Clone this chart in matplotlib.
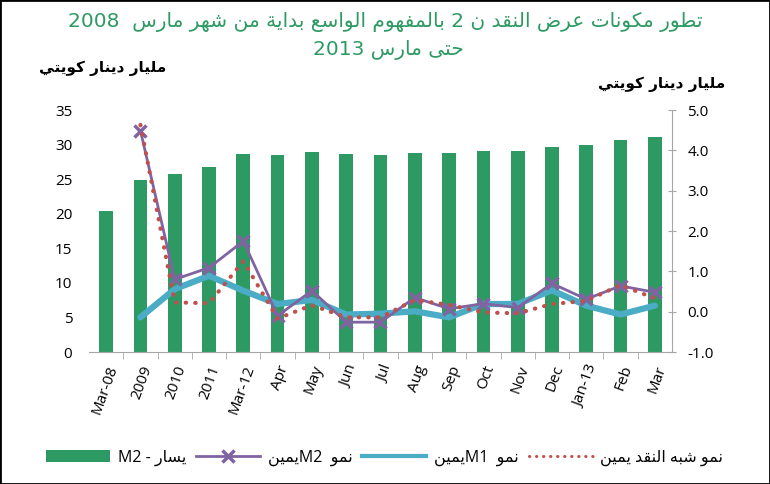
"""
Components of broad money (M2) in Kuwait, March 2008 - March 2013.
Bars: M2 level (left axis, KD billion); lines: growth rates (right axis).
"""
import re
import numpy as np
from matplotlib import pyplot as plt
from matplotlib.patches import Rectangle, Patch
from matplotlib.lines import Line2D

# ---- data -----------------------------------------------------------------
categories = ['Mar-08', '2009', '2010', '2011', 'Mar-12', 'Apr', 'May', 'Jun', 'Jul',
              'Aug', 'Sep', 'Oct', 'Nov', 'Dec', 'Jan-13', 'Feb', 'Mar']
m2_level = [20.4, 24.9, 25.7, 26.8, 28.6, 28.5, 28.9, 28.7, 28.5,
            28.8, 28.8, 29.0, 29.1, 29.7, 30.0, 30.6, 31.1]
m2_growth = [np.nan, 4.49, 0.80, 1.09, 1.75, -0.10, 0.52, -0.26, -0.26,
             0.35, 0.07, 0.20, 0.10, 0.70, 0.31, 0.64, 0.48]
m1_growth = [np.nan, -0.14, 0.56, 0.89, 0.52, 0.19, 0.29, -0.07, -0.05,
             0.01, -0.14, 0.19, 0.19, 0.53, 0.15, -0.07, 0.15]
quasi_growth = [np.nan, 4.63, 0.23, 0.21, 1.25, -0.17, 0.16, -0.14, -0.14,
                0.29, 0.17, -0.02, -0.04, 0.19, 0.27, 0.66, 0.33]

title_line1 = 'تطور مكونات عرض النقد ن 2 بالمفهوم الواسع بداية من شهر مارس  2008'
title_line2 = 'حتى مارس 2013'
unit_label = 'مليار دينار كويتي'
legend_labels = ['يسار - M2', 'نمو  M2يمين', 'نمو  M1يمين', 'نمو شبه النقد يمين']

GREEN = '#2E9A63'
PURPLE = '#8064A2'
CYAN = '#4BACC6'
RED = '#C0504D'
GRAY = '#A6A6A6'

# ---- minimal arabic shaping (matplotlib has no bidi / joining support) -------
FORMS = {
    'ا': (0xFE8D, 0xFE8E), 'د': (0xFEA9, 0xFEAA), 'ر': (0xFEAD, 0xFEAE),
    'ز': (0xFEAF, 0xFEB0), 'و': (0xFEED, 0xFEEE), 'ة': (0xFE93, 0xFE94),
    'ى': (0xFEEF, 0xFEF0),
    'ب': (0xFE8F, 0xFE90, 0xFE91, 0xFE92), 'ت': (0xFE95, 0xFE96, 0xFE97, 0xFE98),
    'ح': (0xFEA1, 0xFEA2, 0xFEA3, 0xFEA4), 'س': (0xFEB1, 0xFEB2, 0xFEB3, 0xFEB4),
    'ش': (0xFEB5, 0xFEB6, 0xFEB7, 0xFEB8), 'ض': (0xFEBD, 0xFEBE, 0xFEBF, 0xFEC0),
    'ط': (0xFEC1, 0xFEC2, 0xFEC3, 0xFEC4), 'ع': (0xFEC9, 0xFECA, 0xFECB, 0xFECC),
    'ف': (0xFED1, 0xFED2, 0xFED3, 0xFED4), 'ق': (0xFED5, 0xFED6, 0xFED7, 0xFED8),
    'ك': (0xFED9, 0xFEDA, 0xFEDB, 0xFEDC), 'ل': (0xFEDD, 0xFEDE, 0xFEDF, 0xFEE0),
    'م': (0xFEE1, 0xFEE2, 0xFEE3, 0xFEE4), 'ن': (0xFEE5, 0xFEE6, 0xFEE7, 0xFEE8),
    'ه': (0xFEE9, 0xFEEA, 0xFEEB, 0xFEEC), 'ي': (0xFEF1, 0xFEF2, 0xFEF3, 0xFEF4),
}


def shape(text):
    out = []
    for i, ch in enumerate(text):
        if ch not in FORMS:
            out.append(ch)
            continue
        prev = text[i - 1] if i > 0 else ''
        nxt = text[i + 1] if i + 1 < len(text) else ''
        joins_prev = prev in FORMS and len(FORMS[prev]) == 4
        joins_next = len(FORMS[ch]) == 4 and nxt in FORMS
        f = FORMS[ch]
        if joins_prev and joins_next:
            code = f[3]
        elif joins_prev:
            code = f[1]
        elif joins_next:
            code = f[2]
        else:
            code = f[0]
        out.append(chr(code))
    return ''.join(out)


def rtl(text):
    # shape in logical order, then lay the runs out right-to-left
    runs = re.findall(r'[A-Za-z0-9.]+|[^A-Za-z0-9.]+', shape(text))
    return ''.join(r if re.match(r'[A-Za-z0-9]', r) else r[::-1] for r in reversed(runs))


# ---- plot -------------------------------------------------------------------
plt.rcParams['font.family'] = ['Open Sans', 'DejaVu Sans']

fig = plt.figure(figsize=(7.7, 4.84), dpi=100)
ax = fig.add_axes([0.1156, 0.2727, 0.7571, 0.5])
ax2 = ax.twinx()

x = np.arange(len(categories))
ax.bar(x, m2_level, width=0.4, color=GREEN, zorder=2)

ax2.plot(x, m1_growth, color=CYAN, lw=4.5, solid_capstyle='round', zorder=3)
ax2.plot(x, m2_growth, color=PURPLE, lw=2, marker='x', markersize=8,
         markeredgewidth=2.5, zorder=4)
ax2.plot(x, quasi_growth, color=RED, lw=3, linestyle=(0, (0.1, 2.2)),
         dash_capstyle='round', zorder=5)

ax.set_xlim(-0.5, len(categories) - 0.5)
ax.set_ylim(0, 35)
ax.set_yticks(np.arange(0, 36, 5))
ax2.set_ylim(-1, 5)
ax2.set_yticks(np.arange(-1, 5.1, 1))
ax2.set_yticklabels([f'{v:.1f}' for v in np.arange(-1, 5.1, 1)])

ax.set_xticks(x)
ax.set_xticklabels(categories, rotation=70, ha='right', rotation_mode='anchor')
ax.set_xticks(x[:-1] + 0.5, minor=True)
ax.tick_params(axis='x', which='major', length=0, pad=8, labelsize=11)
ax.tick_params(axis='x', which='minor', length=5, color=GRAY, direction='out')
ax.tick_params(axis='y', length=0, pad=12, labelsize=11)
ax2.tick_params(axis='y', length=6, direction='inout', color=GRAY, pad=8, labelsize=11)

for a in (ax, ax2):
    a.spines['top'].set_visible(False)
    a.spines['left'].set_visible(False)
ax.spines['right'].set_visible(False)
ax.spines['bottom'].set_color(GRAY)
ax2.spines['bottom'].set_visible(False)
ax2.spines['right'].set_color(GRAY)

# titles and unit labels
fig.text(0.5, 1 - 22 / 484, rtl(title_line1), ha='center', va='center',
         color=GREEN, fontsize=14.5, family='DejaVu Sans')
fig.text(0.505, 1 - 50 / 484, rtl(title_line2), ha='center', va='center',
         color=GREEN, fontsize=14.5, family='DejaVu Sans')
fig.text(103 / 770, 1 - 68 / 484, rtl(unit_label), ha='center', va='center',
         fontsize=11, fontweight='bold', family='DejaVu Sans')
fig.text(662 / 770, 1 - 84 / 484, rtl(unit_label), ha='center', va='center',
         fontsize=11, fontweight='bold', family='DejaVu Sans')

# legend
handles = [
    Patch(facecolor=GREEN),
    Line2D([], [], color=PURPLE, lw=2, marker='x', markersize=8, markeredgewidth=2.5),
    Line2D([], [], color=CYAN, lw=3),
    Line2D([], [], color=RED, lw=2.2, linestyle=(0, (0.1, 2.2)), dash_capstyle='round'),
]
fig.legend(handles, [rtl(s) for s in legend_labels], loc='center',
           bbox_to_anchor=(0.5, 1 - 458 / 484), ncol=4, frameon=False,
           handlelength=4.0, handleheight=0.8, handletextpad=0.5, columnspacing=0.6,
           prop={'family': ['Open Sans', 'DejaVu Sans'], 'size': 11.5})

# outer frame
fig.patches.append(Rectangle((0, 0), 1, 1, transform=fig.transFigure, fill=False,
                             edgecolor='black', lw=2))

fig.savefig('out.png', dpi=100)
